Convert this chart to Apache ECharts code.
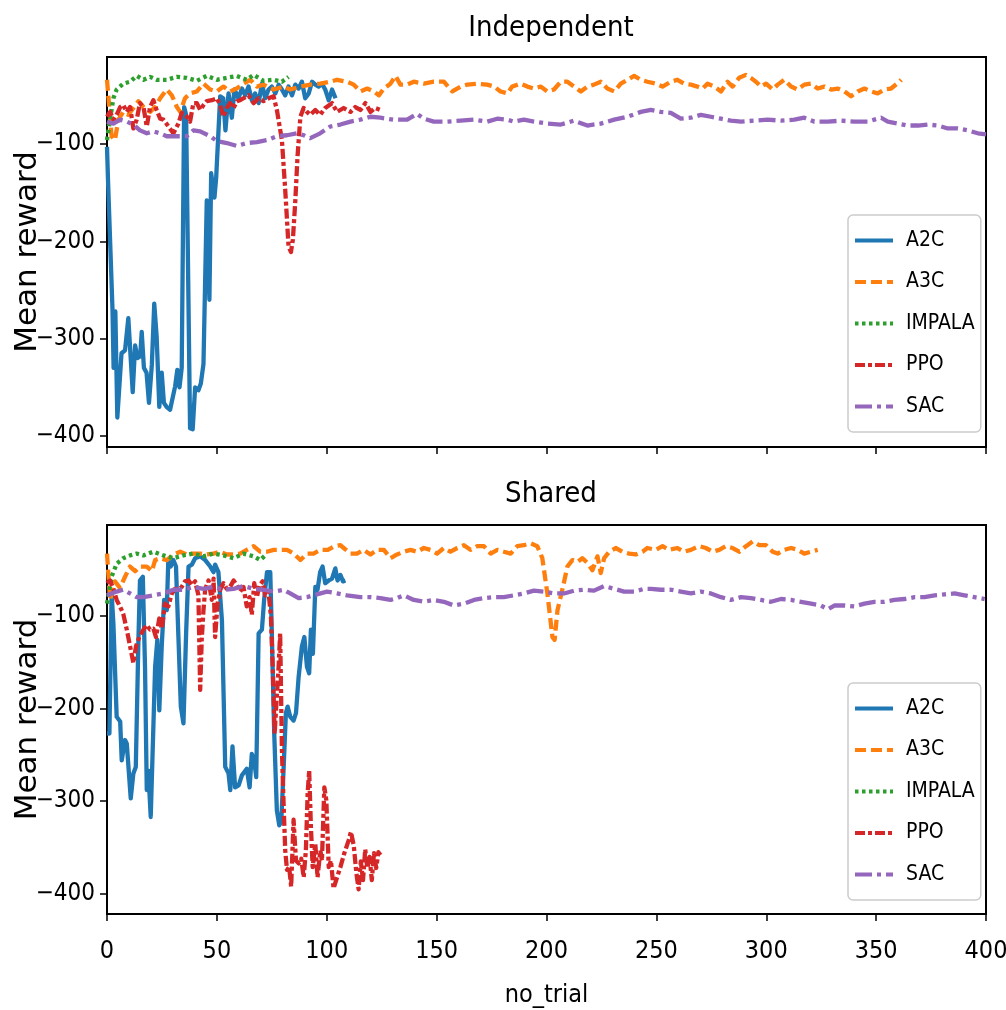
<!DOCTYPE html>
<html><head><meta charset="utf-8">
<script src="https://cdn.jsdelivr.net/npm/echarts@6/dist/echarts.min.js"></script>
<style>html,body{margin:0;padding:0;background:#fff}#c{width:1006px;height:1010px}</style>
</head><body><div id="c"></div><script>
const seriesNames = ['A2C', 'A3C', 'IMPALA', 'PPO', 'SAC'];
const panelTitles = ['Independent', 'Shared'];
const xTickValues = [0, 50, 100, 150, 200, 250, 300, 350, 400];
const yTickValues = [-400, -300, -200, -100];

// Independent panel
const indA2C = [[0,-103],[0.5,-140],[2.5,-270],[3,-330],[3.8,-272],[4.7,-381],[6.6,-315],[8.2,-312],[9.7,-279],[11.7,-355],[12.8,-307],[13.9,-320],[15.1,-318],[15.8,-293],[16.8,-330],[18,-335],[19.1,-366],[20.4,-327],[21.5,-264],[22.6,-298],[23.8,-370],[24.9,-335],[25.9,-366],[27.1,-370],[28.7,-373],[31,-349],[32,-332],[33,-350],[34,-330],[35.1,-62],[36,-70],[37.8,-392],[39,-393],[40.1,-350],[41.6,-353],[42.7,-346],[43.9,-326],[45.4,-158],[46.6,-260],[47.4,-130],[48.9,-155],[49.7,-134],[51.5,-51],[52.9,-53],[53.9,-86],[55.3,-48],[56.8,-73],[58,-44],[59.8,-53],[61.4,-43],[62.9,-50],[64.4,-41],[65.9,-55],[67.4,-48],[69,-58],[70.5,-38],[72,-53],[73.5,-44],[75,-41],[76.6,-48],[78.1,-39],[79.6,-44],[81.1,-50],[82.6,-41],[84.2,-50],[85.7,-39],[87.2,-43],[88.7,-36],[90.2,-53],[91.8,-48],[93.3,-36],[94.8,-39],[96.3,-41],[97.8,-38],[99.3,-44],[100.9,-55],[102.4,-44],[104,-53]];
const indA3C = [[0,-34],[2.1,-92],[3.6,-96],[5.2,-75],[7.4,-67],[9.7,-70],[12,-63],[14.3,-56],[16.6,-62],[19.6,-67],[21.9,-62],[24.2,-53],[27.2,-44],[29.5,-50],[31.8,-62],[33.3,-67],[35.5,-53],[37.8,-48],[40.9,-46],[43.9,-38],[47,-44],[50,-46],[53,-41],[56,-46],[59,-43],[62.1,-38],[65.2,-34],[68.2,-41],[71.2,-39],[75.8,-44],[80.4,-41],[83.4,-44],[88,-41],[92.5,-39],[97.1,-38],[101.6,-36],[104.7,-34],[109.2,-36],[112.3,-39],[115.3,-46],[118.4,-43],[121.4,-46],[123.7,-50],[126,-43],[129,-38],[131.3,-30],[133.5,-39],[136.6,-39],[139.6,-36],[144.2,-38],[148.7,-36],[153.3,-36],[157.1,-46],[160.9,-41],[163.9,-39],[168.5,-38],[173,-39],[176.1,-41],[179.1,-46],[182.2,-48],[184.4,-41],[188.2,-38],[191.3,-41],[194.3,-43],[197.3,-41],[200.4,-46],[203.4,-44],[206.5,-36],[209.5,-36],[212.5,-41],[215.6,-46],[218.6,-41],[221.6,-39],[224.7,-36],[227.7,-43],[230.8,-46],[233.8,-38],[236.8,-34],[239.9,-30],[242.9,-34],[245.9,-36],[249.7,-38],[252.8,-41],[256.6,-36],[259.6,-34],[262.6,-38],[265.7,-39],[268.7,-41],[271,-43],[273.3,-38],[276.3,-41],[279.4,-46],[282.4,-36],[284.7,-41],[287.7,-32],[290.7,-29],[293,-32],[295.3,-36],[297.6,-41],[299.9,-38],[302.9,-44],[305.2,-39],[308.2,-34],[311.3,-41],[314.3,-44],[317.3,-39],[320.4,-38],[323.4,-43],[326.4,-41],[329.5,-44],[332.5,-43],[335.6,-46],[338.6,-51],[341.6,-46],[344.7,-43],[347.7,-46],[350.7,-48],[353.8,-44],[356.8,-43],[360.6,-36],[361.4,-34]];
const indIMPALA = [[0,-96],[0.5,-88],[2.9,-53],[4.4,-44],[7.4,-38],[10.5,-36],[13.5,-30],[16.6,-34],[19.6,-31],[22.6,-34],[27.2,-34],[31.7,-31],[36.3,-32],[40.9,-35],[45.4,-30],[50,-34],[54.5,-32],[59.1,-30],[63.6,-34],[66.7,-29],[71.2,-35],[75.8,-34],[79.6,-36],[82.6,-31]];
const indPPO = [[0,-72],[1.4,-67],[2.9,-75],[4.4,-70],[6,-62],[7.4,-60],[9,-67],[10.5,-62],[12,-84],[13.5,-75],[15,-58],[16.6,-62],[18.1,-82],[19.6,-62],[21.1,-55],[22.6,-65],[24.2,-74],[25.7,-75],[28,-82],[30.2,-89],[32.5,-79],[34,-68],[36.3,-72],[37.8,-77],[39.3,-58],[40.9,-58],[42.4,-65],[43.9,-60],[45.4,-56],[47.7,-55],[50,-53],[51.5,-60],[53,-72],[54.5,-63],[56,-58],[57.6,-63],[59.1,-56],[60.6,-55],[62.1,-53],[64.4,-50],[66.7,-58],[69,-53],[71.2,-56],[73.5,-53],[75.8,-51],[77.3,-65],[79.6,-96],[81.1,-147],[82.6,-205],[83.7,-211],[84.6,-198],[85.7,-158],[86.7,-113],[88,-72],[89.5,-63],[91,-67],[92.5,-70],[94.8,-65],[97,-70],[99.3,-63],[102.4,-58],[104.7,-67],[107.7,-63],[110.8,-67],[113,-62],[115.3,-65],[117.6,-58],[119.9,-67],[122.1,-63],[124.4,-65]];
const indSAC = [[0,-77],[2.9,-79],[6,-75],[9,-77],[12,-80],[15,-86],[18.1,-89],[21.1,-87],[24.2,-89],[27.2,-92],[31.8,-92],[36.3,-92],[39.3,-86],[42.4,-87],[47,-92],[50,-97],[54.5,-99],[59.1,-102],[63.6,-99],[68.2,-98],[72.8,-96],[77.3,-92],[81.9,-91],[86.4,-89],[89.5,-91],[92.5,-94],[97,-89],[101.6,-82],[106.2,-80],[110.8,-77],[115.3,-75],[119.9,-72],[124.4,-73],[130.5,-75],[136.6,-75],[141.1,-69],[144.2,-74],[148.7,-77],[154.8,-77],[160.9,-76],[167,-75],[173,-77],[177.6,-74],[182.2,-75],[185.2,-77],[189.7,-75],[194.3,-77],[200.4,-79],[206.5,-80],[212.5,-76],[218.6,-81],[224.7,-79],[230.8,-75],[236.8,-72],[242.9,-67],[247.5,-65],[252,-67],[256.6,-68],[261.1,-74],[265.7,-73],[270.2,-70],[274.8,-72],[279.4,-74],[283.9,-76],[288.5,-77],[294.5,-76],[300.6,-75],[306.7,-76],[312.8,-75],[317.3,-73],[321.9,-77],[328,-77],[334,-76],[340.1,-77],[346.2,-77],[349.2,-75],[352.3,-73],[355.3,-77],[359.9,-79],[364.4,-81],[369,-81],[373.5,-80],[378.1,-81],[382.6,-84],[387.2,-84],[391.8,-86],[396.3,-89],[400,-90]];

// Shared panel
const shrA2C = [[0,-227],[1.1,-227],[2.1,-76],[2.9,-108],[4.4,-209],[6,-214],[6.7,-256],[8.2,-234],[9,-238],[10.8,-297],[12,-270],[13.1,-263],[14.3,-126],[15,-62],[16.3,-58],[17.3,-155],[18.1,-288],[18.8,-267],[19.9,-317],[20.8,-319],[21.9,-155],[22.9,-126],[23.8,-202],[24.9,-133],[26,-83],[27.2,-94],[27.9,-40],[29,-47],[30.2,-40],[31.4,-47],[32.5,-123],[33.6,-198],[34.8,-216],[36,-119],[37.1,-47],[38.6,-45],[40.1,-38],[42.4,-36],[44.7,-40],[47,-47],[48.5,-53],[49.2,-45],[50.7,-53],[52.3,-105],[53.8,-263],[55.3,-270],[56.1,-288],[57.1,-241],[58.3,-285],[59.9,-283],[61.4,-272],[63.6,-265],[64.9,-285],[65.9,-249],[67,-256],[67.9,-274],[69,-119],[70.5,-115],[71.5,-83],[72.8,-53],[74.3,-53],[75,-119],[76.1,-227],[77.3,-310],[78.4,-326],[79.3,-322],[80.4,-263],[81.4,-205],[82.2,-198],[83.4,-209],[84.9,-213],[86,-205],[87.2,-166],[88.7,-133],[89.8,-123],[91,-155],[92,-162],[92.8,-115],[93.7,-141],[94.8,-69],[95.8,-72],[97,-53],[98.1,-47],[99.3,-65],[100.9,-62],[102.4,-60],[103.9,-49],[104.9,-62],[106.2,-56],[107.4,-63],[108.5,-62]];
const shrA3C = [[0,-33],[1.4,-83],[3.6,-63],[5.9,-70],[8.2,-58],[10.5,-47],[12.8,-52],[15,-47],[18.1,-47],[20.4,-52],[21.9,-40],[24.2,-38],[27.2,-40],[30.2,-34],[33.3,-31],[36.3,-34],[39.3,-33],[42.4,-33],[45.4,-34],[48.5,-33],[51.5,-31],[54.5,-34],[57.6,-34],[60.6,-33],[63.6,-29],[66.7,-25],[69.7,-31],[72.8,-31],[75.8,-29],[78.8,-29],[81.9,-29],[84.9,-33],[88,-40],[91,-33],[94,-33],[97.1,-29],[100.5,-29],[103.5,-25],[106.2,-24],[107.7,-27],[110.8,-33],[113.8,-33],[116.8,-29],[119.9,-34],[122.9,-29],[126,-29],[129,-38],[132,-34],[135.1,-31],[138.1,-29],[141.1,-31],[144.2,-27],[147.2,-29],[150.2,-33],[153.3,-27],[156.3,-31],[159.4,-27],[162.4,-24],[165.4,-29],[168.5,-25],[171.5,-25],[174.6,-33],[177.6,-29],[180.6,-31],[183.7,-33],[186.7,-25],[189.7,-24],[192.8,-22],[195.8,-25],[198.1,-38],[200.4,-76],[202.7,-123],[203.7,-126],[205,-94],[207.2,-72],[209.5,-47],[211.8,-40],[214.1,-42],[216.3,-38],[218.6,-43],[220.9,-51],[223.2,-36],[224.7,-54],[226.2,-38],[228.5,-31],[231.5,-27],[234.6,-31],[237.6,-33],[240.6,-34],[243.7,-31],[245.9,-27],[249.7,-29],[252.8,-25],[255.8,-29],[259.6,-27],[262.6,-31],[265.7,-29],[269.5,-25],[272.5,-27],[275.6,-31],[278.6,-29],[281.6,-25],[284.7,-27],[287.7,-31],[290.8,-25],[293.8,-20],[296.8,-24],[299.9,-24],[302.9,-31],[305.2,-33],[308.2,-29],[311.3,-27],[314.3,-29],[317.3,-33],[320.4,-31],[323.4,-29]];
const shrIMPALA = [[0,-87],[2.1,-58],[4.4,-44],[7.4,-38],[10.5,-35],[13.5,-33],[16.6,-35],[21.1,-31],[25.7,-35],[30.2,-38],[34.8,-35],[39.3,-33],[43.9,-36],[48.5,-33],[53,-35],[57.6,-38],[62.1,-33],[66.7,-36],[69.7,-40],[72,-35]];
const shrPPO = [[0,-65],[1.4,-62],[2.9,-71],[4.4,-83],[5.9,-90],[7.4,-98],[9,-115],[10.5,-133],[12,-151],[13.2,-133],[14.7,-123],[16.6,-115],[18.1,-110],[19.6,-115],[21.1,-114],[22.3,-123],[23.8,-103],[24.9,-114],[26.4,-87],[27.9,-90],[29.5,-76],[31,-71],[32.5,-72],[34,-69],[35.5,-63],[37.1,-62],[38.6,-67],[40.1,-63],[41.6,-78],[42.4,-180],[43.1,-126],[43.9,-94],[44.7,-71],[46.2,-62],[47.7,-83],[48.5,-60],[49.2,-123],[50.3,-87],[51.5,-72],[53,-65],[54.5,-71],[56,-69],[57.6,-62],[59.1,-67],[60.6,-74],[62.1,-69],[63.6,-90],[64.9,-80],[65.9,-99],[67,-65],[68.2,-80],[69.4,-67],[70.8,-63],[72,-78],[73.5,-74],[74.6,-101],[75.5,-162],[76.3,-227],[77,-198],[78.1,-155],[78.8,-119],[79.6,-245],[80.4,-306],[81.1,-353],[81.9,-374],[82.9,-371],[83.8,-392],[84.9,-320],[86,-364],[87.2,-367],[88.4,-362],[89.5,-382],[90.5,-353],[91.3,-292],[92,-267],[92.8,-328],[93.6,-371],[94.8,-346],[95.8,-382],[97.1,-353],[97.8,-364],[98.9,-285],[99.8,-299],[100.9,-371],[101.9,-364],[103.1,-394],[104.7,-382],[106.2,-371],[108,-356],[110,-342],[111,-333],[112.3,-348],[113.5,-378],[114.5,-395],[115.5,-365],[116.5,-385],[117.5,-352],[118.5,-372],[119.5,-360],[120.5,-385],[121.5,-356],[122.5,-372],[123.5,-355],[124.5,-358]];
const shrSAC = [[0,-78],[4.4,-74],[7.4,-72],[10.5,-76],[13.5,-80],[16.6,-80],[21.1,-78],[25.7,-76],[30.2,-72],[34.8,-72],[39.3,-69],[43.9,-71],[48.5,-69],[53,-72],[57.6,-71],[62.1,-68],[66.7,-71],[71.2,-72],[75.8,-74],[80.4,-72],[83.4,-76],[87.2,-81],[91,-80],[95.5,-77],[100.1,-74],[104.7,-76],[109.2,-78],[115.3,-80],[119.9,-80],[124.4,-81],[129,-83],[132,-81],[135.1,-78],[139.6,-83],[144.2,-85],[148.7,-83],[153.3,-85],[157.9,-89],[162.4,-87],[167,-83],[171.5,-81],[176.1,-80],[180.6,-80],[185.2,-78],[189.7,-76],[194.3,-73],[198.9,-74],[203.4,-76],[208,-76],[212.5,-73],[217.1,-72],[221.6,-73],[226.2,-68],[230.8,-71],[235.3,-74],[239.9,-74],[244.5,-71],[247.5,-71],[252,-72],[256.6,-72],[261.1,-74],[265.7,-76],[270.2,-74],[274.8,-76],[279.4,-80],[283.9,-83],[288.5,-80],[293,-81],[297.6,-83],[302.1,-85],[306.7,-82],[311.3,-83],[315.8,-85],[320.4,-87],[324.9,-89],[328,-93],[331,-89],[335.6,-89],[340.1,-90],[344.7,-87],[349.2,-85],[353.8,-85],[358.3,-83],[362.9,-82],[367.5,-80],[372,-80],[376.6,-78],[381.1,-77],[385.7,-76],[390.2,-78],[394.8,-80],[399.4,-82]];

const panelData = [
  [indA2C, indA3C, indIMPALA, indPPO, indSAC],
  [shrA2C, shrA3C, shrIMPALA, shrPPO, shrSAC]
];

const colors = ['#1f77b4', '#ff7f0e', '#2ca02c', '#d62728', '#9467bd'];
const dashes = ['solid', [11, 5], [3.5, 3.5], [10, 3, 4, 3], [17, 5, 4, 5]];
const FONT = "'DejaVu Sans Condensed', 'Liberation Sans Narrow', 'DejaVu Sans', sans-serif";

const grids = [
  { left: 107, right: 20, top: 57, height: 390 },
  { left: 107, right: 20, top: 525, height: 389 }
];
const yRanges = [[-411.3, -10.6], [-421.6, -2.2]];
const legendTops = [215, 683];
const titleTops = [9, 475];

const option = {
  animation: false,
  backgroundColor: '#ffffff',
  title: panelTitles.map((t, i) => ({
    text: t, left: 546, top: titleTops[i], textAlign: 'center',
    textStyle: { fontFamily: FONT, fontSize: 29, fontWeight: 'normal', color: '#000' }
  })),
  grid: grids.map(g => Object.assign({ show: true, borderColor: '#000', borderWidth: 2, backgroundColor: 'transparent', containLabel: false, outerBoundsMode: 'none' }, g)),
  legend: legendTops.map(t => ({
    data: seriesNames, orient: 'vertical', left: 848, top: t,
    itemWidth: 38, itemHeight: 14, itemGap: 17.5,
    padding: [13.5, 6, 13.5, 5],
    backgroundColor: 'rgba(255,255,255,0.85)', borderColor: '#cccccc', borderWidth: 1.5, borderRadius: 5,
    itemStyle: { opacity: 0 },
    lineStyle: { width: 4 },
    textStyle: { fontFamily: FONT, fontSize: 21, color: '#000', lineHeight: 24, padding: [0, 0, 0, 8] }
  })),
  xAxis: grids.map((g, i) => ({
    type: 'value', gridIndex: i, min: 0, max: 400, interval: 50,
    axisLine: { show: true, onZero: false, lineStyle: { color: '#000', width: 2 } },
    axisTick: { show: true, inside: false, length: 7, lineStyle: { color: '#000', width: 1.5 } },
    axisLabel: { show: i === 1, margin: 25, fontFamily: FONT, fontSize: 25, color: '#000',
      customValues: xTickValues },
    splitLine: { show: false },
    name: i === 1 ? 'no_trial' : '', nameLocation: 'middle', nameGap: 69, nameMoveOverlap: false,
    nameTextStyle: { fontFamily: FONT, fontSize: 25, color: '#000' }
  })),
  yAxis: grids.map((g, i) => ({
    type: 'value', gridIndex: i, min: yRanges[i][0], max: yRanges[i][1],
    axisLine: { show: true, onZero: false, lineStyle: { color: '#000', width: 2 } },
    axisTick: { show: true, inside: false, length: 7, lineStyle: { color: '#000', width: 1.5 }, customValues: yTickValues },
    axisLabel: { show: true, margin: 12, fontFamily: FONT, fontSize: 24, color: '#000', customValues: yTickValues,
      formatter: v => (v < 0 ? '\u2212' + Math.abs(v) : String(v)) },
    splitLine: { show: false },
    name: 'Mean reward', nameLocation: 'middle', nameGap: 64, nameMoveOverlap: false,
    nameTextStyle: { fontFamily: "'DejaVu Sans', sans-serif", fontSize: 31, color: '#000' }
  })),
  series: []
};

panelData.forEach((panel, p) => {
  panel.forEach((data, k) => {
    option.series.push({
      name: seriesNames[k], type: 'line', xAxisIndex: p, yAxisIndex: p,
      data: data, showSymbol: false, symbol: 'none', clip: true,
      lineStyle: { color: colors[k], width: 4.3, type: dashes[k], join: 'round' },
      itemStyle: { color: colors[k] },
      emphasis: { disabled: true }
    });
  });
});

const chart = echarts.init(document.getElementById('c'), null, { renderer: 'canvas' });
chart.setOption(option);
</script></body></html>
